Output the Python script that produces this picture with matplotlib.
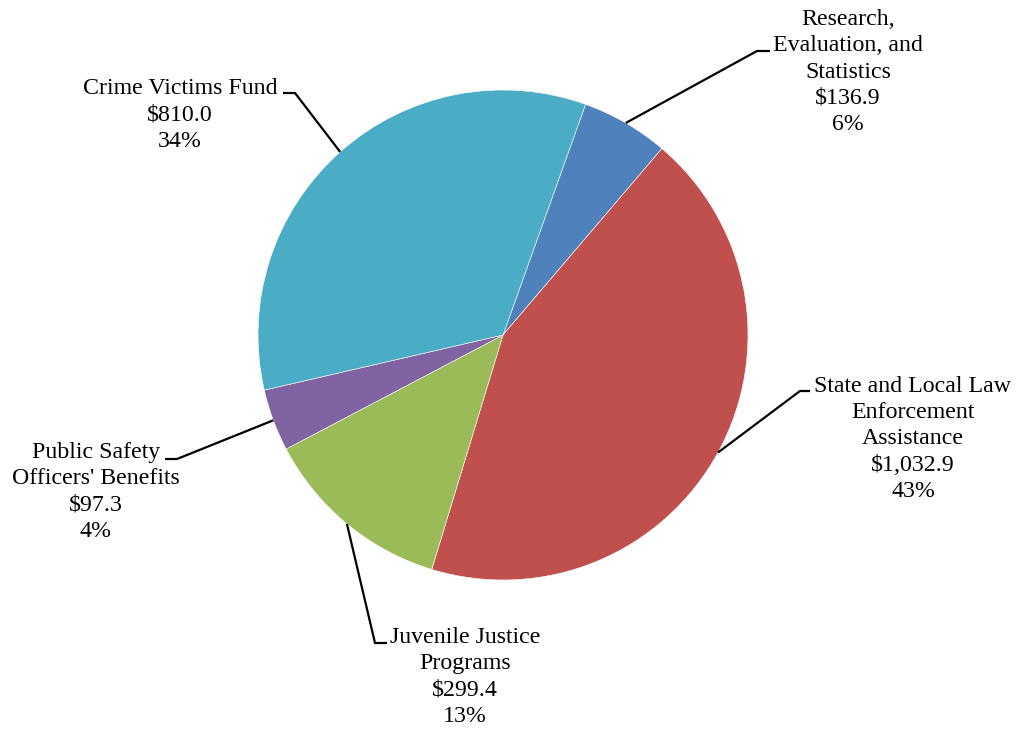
import numpy as np
import matplotlib
matplotlib.use("Agg")
import matplotlib.pyplot as plt

# budget data ($ millions)
labels = ["Research,\nEvaluation, and\nStatistics",
          "State and Local Law\nEnforcement\nAssistance",
          "Juvenile Justice\nPrograms",
          "Public Safety\nOfficers' Benefits",
          "Crime Victims Fund"]
values = [136.9, 1032.9, 299.4, 97.3, 810.0]
colors = ["#4F81BD", "#C0504D", "#9BBB59", "#8064A2", "#4BACC6"]

# layout (pixel coords, y from top): text centre, elbow point, side of text
text_pos = [(848, 72), (913, 439), (465, 677), (96, 492), (180, 115)]
elbows = [(757, 51), (800, 391), (375, 643), (177, 459), (295, 93)]
tail = [13, 10, 12, -12, -12]

W, H = 1017, 731
CX, CY, R = 503, 335, 245
START = 70.3

plt.rcParams['font.family'] = ['Liberation Serif', 'DejaVu Serif']

fig = plt.figure(figsize=(W / 100, H / 100), dpi=100)
ax = fig.add_axes([0, 0, 1, 1])
ax.set_xlim(0, W)
ax.set_ylim(0, H)
ax.set_aspect('equal')
ax.axis('off')

wedges, _ = ax.pie(values, colors=colors, startangle=START, counterclock=False,
                   center=(CX, H - CY), radius=R,
                   wedgeprops=dict(edgecolor='white', linewidth=0.4))
ax.set_xlim(0, W)
ax.set_ylim(0, H)

total = sum(values)
for w, lab, v, tp, el, tl in zip(wedges, labels, values, text_pos, elbows, tail):
    mid = np.deg2rad((w.theta1 + w.theta2) / 2)
    x0 = CX + R * np.cos(mid)
    y0 = (H - CY) + R * np.sin(mid)
    ex, ey = el[0], H - el[1]
    ax.plot([x0, ex, ex + tl], [y0, ey, ey], color='black', lw=1.6,
            solid_capstyle='butt')
    txt = "%s\n$%s\n%d%%" % (lab, format(v, ',.1f'), round(v / total * 100))
    ax.text(tp[0], H - tp[1], txt, ha='center', va='center',
            multialignment='center', fontsize=17.2, linespacing=1.33)

fig.savefig("out.png", dpi=100)
